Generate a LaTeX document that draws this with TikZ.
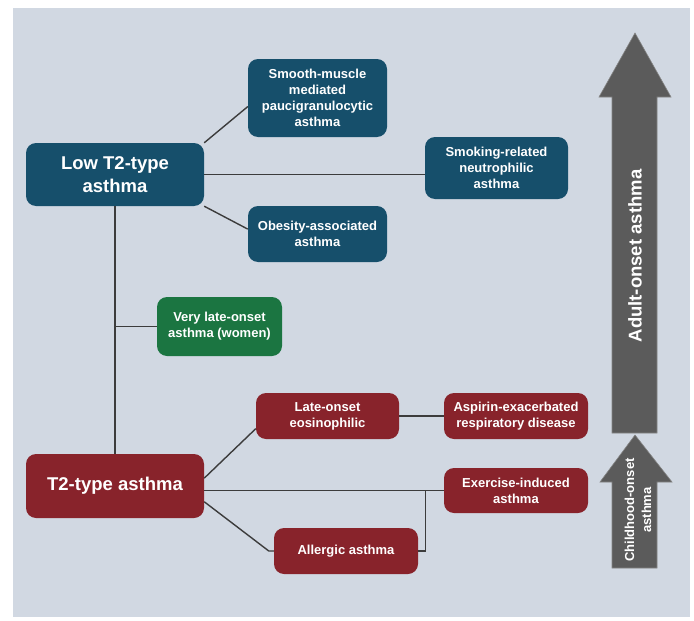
\documentclass[tikz,border=0pt]{standalone}
\usepackage{fontspec}
\setmainfont{Liberation Sans}
\usepackage{xcolor}
\usepackage{tikz}
\usetikzlibrary{positioning,calc}
\definecolor{bgfill}{HTML}{D1D8E2}
\definecolor{lowblue}{HTML}{164F6B}
\definecolor{t2red}{HTML}{88232B}
\definecolor{lategreen}{HTML}{1B7541}
\definecolor{arrowgray}{HTML}{5B5B5B}
\definecolor{linkgray}{HTML}{3C3C3C}
\tikzset{
  box/.style={rounded corners=10pt, text=white, align=center, inner sep=0pt,
    font=\bfseries\fontsize{13}{16}\selectfont},
  bigbox/.style={box, font=\bfseries\fontsize{18.5}{22.5}\selectfont},
  link/.style={draw=linkgray, line width=1.4pt},
  onset/.style={fill=arrowgray, draw=arrowgray!75!white, line width=0.6pt}
}

\begin{document}
\begin{tikzpicture}[x=1pt, y=-1pt]
\useasboundingbox (0,0) rectangle (694,621);
\fill[bgfill] (13,8) rectangle (690,617);

% Onset arrows
\draw[onset] (612,433) -- (612,97) -- (599,97) -- (635,33) -- (671,97) -- (657,97) -- (657,433) -- cycle;
\draw[onset] (612,568) -- (612,482) -- (600,482) -- (635,435) -- (672,482) -- (657,482) -- (657,568) -- cycle;
\node[rotate=90, text=white, font=\bfseries\fontsize{18.5}{22}\selectfont] (adult) at (635,256) {Adult-onset asthma};
\node[rotate=90, text=white, align=center, font=\bfseries\fontsize{13}{17}\selectfont] (child) at (638,510) {Childhood-onset\\asthma};

% Low T2 branch
\node[bigbox, fill=lowblue, minimum width=178pt, minimum height=63pt] (lowt2) at (115,174.5) {Low T2-type\\asthma};
\node[box, fill=lowblue, minimum width=139pt, minimum height=78pt] (smooth) at (317.5,98) {Smooth-muscle\\mediated\\paucigranulocytic\\asthma};
\node[box, fill=lowblue, minimum width=143pt, minimum height=62pt] (smoking) at (496.5,168) {Smoking-related\\neutrophilic\\asthma};
\node[box, fill=lowblue, minimum width=139pt, minimum height=56pt] (obesity) at (317.5,234) {Obesity-associated\\asthma};

% Middle
\node[box, fill=lategreen, minimum width=125pt, minimum height=59pt] (verylate) at (219.5,326.5) {Very late-onset\\asthma (women)};

% T2 branch
\node[bigbox, fill=t2red, minimum width=178pt, minimum height=64pt] (t2) at (115,486) {T2-type asthma};
\node[box, fill=t2red, minimum width=143pt, minimum height=46pt] (lateeos) at (327.5,416) {Late-onset\\eosinophilic};
\node[box, fill=t2red, minimum width=144pt, minimum height=46pt] (aspirin) at (516,416) {Aspirin-exacerbated\\respiratory disease};
\node[box, fill=t2red, minimum width=144pt, minimum height=45pt] (exercise) at (516,490.5) {Exercise-induced\\asthma};
\node[box, fill=t2red, minimum width=144pt, minimum height=46pt] (allergic) at (346,551) {Allergic asthma};

% Connectors
\draw[link] (lowt2.north east) -- (smooth.187);
\draw[link] (lowt2.east) -- (lowt2.east -| smoking.west);
\draw[link] (lowt2.south east) -- (obesity.176);
\draw[link] (lowt2.south) -- (t2.north);
\draw[link] (verylate.west) -- (verylate.west -| lowt2.south);
\draw[link] (t2.5) -- (lateeos.190);
\draw[link] (lateeos.east) -- (aspirin.west);
\draw[link] (t2.east |- exercise.west) -- (exercise.west);
\draw[link] (t2.-10) -- ($(allergic.west)+(-5,0)$) -- (allergic.west);
\draw[link] (allergic.east) -- ++(7,0) coordinate (joint) -- (joint |- exercise.west);
\end{tikzpicture}
\end{document}
